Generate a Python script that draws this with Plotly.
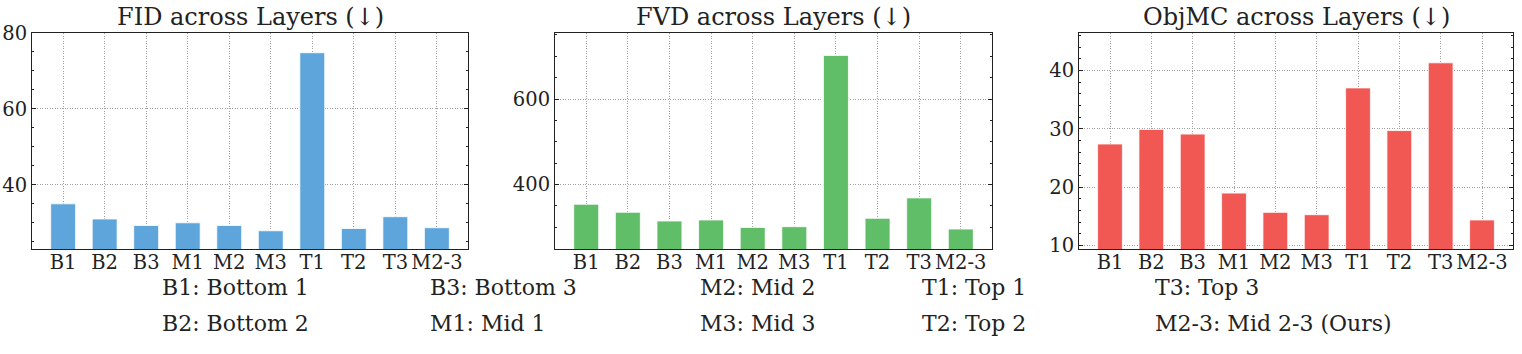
import plotly.graph_objects as go

categories = ["B1", "B2", "B3", "M1", "M2", "M3", "T1", "T2", "T3", "M2-3"]
fid_values = [35.0, 31.0, 29.3, 30.0, 29.3, 27.9, 74.8, 28.5, 31.6, 28.7]
fvd_values = [353.7, 334.9, 314.5, 316.9, 299.6, 301.2, 702.0, 320.8, 368.6, 295.7]
objmc_values = [27.4, 29.9, 29.1, 19.0, 15.7, 15.3, 37.0, 29.7, 41.3, 14.4]

titles = ["FID across Layers (↓)", "FVD across Layers (↓)", "ObjMC across Layers (↓)"]
colors = ["#5DA5DA", "#60BD68", "#F15854"]
y_ranges = [[23.1, 80.0], [249, 754.5], [9.43, 46.4]]
y_ticks = [[40, 60, 80], [400, 600], [10, 20, 30, 40]]
y_minor = [5, 50, 2]

legend_items = [
    ["B1: Bottom 1", "B2: Bottom 2"],
    ["B3: Bottom 3", "M1: Mid 1"],
    ["M2: Mid 2", "M3: Mid 3"],
    ["T1: Top 1", "T2: Top 2"],
    ["T3: Top 3", "M2-3: Mid 2-3 (Ours)"],
]

W, H = 1522, 354
FONT = "DejaVu Serif"

x_domains_px = [(32, 468), (555, 992), (1079, 1513)]
y_top_px, y_bot_px = 33, 249

fig = go.Figure()
series = [fid_values, fvd_values, objmc_values]
annotations = []
for i, vals in enumerate(series):
    n = "" if i == 0 else str(i + 1)
    xa = "x" + n
    ya = "y" + n
    fig.add_trace(go.Bar(
        x=categories, y=vals, xaxis=xa, yaxis=ya, width=0.6,
        marker=dict(color=colors[i], line=dict(color="rgba(255,255,255,0.8)", width=1)),
        showlegend=False, hoverinfo="skip",
    ))
    x0, x1 = x_domains_px[i]
    axis_common = dict(
        showline=True, linecolor="#222", linewidth=1, mirror="allticks",
        ticks="inside", ticklen=4, tickcolor="#222",
        showgrid=True, gridcolor="#a0a0a0", griddash="1px,1.5px", gridwidth=0.6,
        zeroline=False, automargin=False,
        tickfont=dict(family=FONT, size=19.5, color="#222"),
    )
    fig.layout["xaxis" + n] = dict(
        axis_common, domain=[x0 / W, x1 / W], anchor=ya, tickangle=0,
        range=[-0.75, 9.75], type="category", ticklen=0, ticklabelstandoff=-4,
    )
    fig.layout["yaxis" + n] = dict(
        axis_common, domain=[1 - y_bot_px / H, 1 - y_top_px / H], anchor=xa,
        range=y_ranges[i], tickvals=y_ticks[i], ticklabelstandoff=0,
        minor=dict(dtick=y_minor[i], ticks="inside", ticklen=2, tickcolor="#222", showgrid=False),
    )
    annotations.append(dict(
        text=titles[i], xref="paper", yref="paper",
        x=(x0 + x1) / 2 / W, y=1 - 17 / H, xanchor="center", yanchor="middle",
        showarrow=False, font=dict(family=FONT, size=24, color="#222"),
    ))

col_x = [160, 428, 698, 920, 1153]
row_y = [287, 323]
for c, pair in enumerate(legend_items):
    for r, txt in enumerate(pair):
        annotations.append(dict(
            text=txt, xref="paper", yref="paper",
            x=col_x[c] / W, y=1 - row_y[r] / H, xanchor="left", yanchor="middle",
            showarrow=False, font=dict(family=FONT, size=22, color="#222"),
        ))

fig.update_layout(
    width=W, height=H, margin=dict(l=0, r=0, t=0, b=0),
    paper_bgcolor="white", plot_bgcolor="white",
    annotations=annotations, bargap=0.4,
)

fig.write_html(
    "out.html",
    config={"displayModeBar": False},
    post_script="document.body.style.margin='0';document.body.style.overflow='hidden';",
)
